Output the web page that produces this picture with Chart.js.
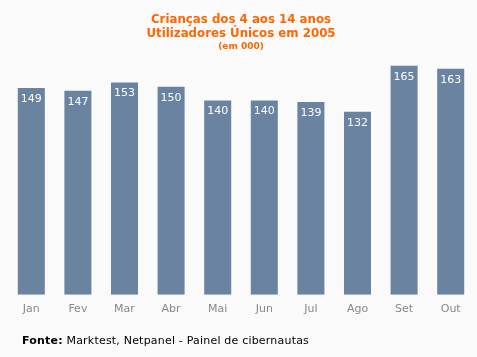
<!DOCTYPE html>
<html>
<head>
<meta charset="utf-8">
<script src="https://cdn.jsdelivr.net/npm/chart.js@4"></script>
<style>
html,body{margin:0;padding:0;background:#FAFAFA;}
#wrap{position:relative;width:477px;height:357px;}
#footer{position:absolute;left:22px;top:334px;font:11px "DejaVu Sans",Verdana,sans-serif;letter-spacing:0.2px;color:#000;white-space:nowrap;line-height:14px;}
</style>
</head>
<body>
<div id="wrap">
<canvas id="c" width="477" height="357"></canvas>
<div id="footer"><b>Fonte:</b> Marktest, Netpanel - Painel de cibernautas</div>
</div>
<script>
const titleLines = ["Crianças dos 4 aos 14 anos", "Utilizadores Únicos em 2005"];
const subtitleText = "(em 000)";
const months = ["Jan","Fev","Mar","Abr","Mai","Jun","Jul","Ago","Set","Out"];
const users = [149,147,153,150,140,140,139,132,165,163];

const FONT = '"DejaVu Sans", Verdana, sans-serif';

const valueLabels = {
  id: 'valueLabels',
  afterDatasetsDraw(chart) {
    const ctx = chart.ctx;
    const meta = chart.getDatasetMeta(0);
    ctx.save();
    ctx.fillStyle = '#FFFFFF';
    ctx.font = '11px ' + FONT;
    ctx.textAlign = 'center';
    ctx.textBaseline = 'middle';
    meta.data.forEach((bar, i) => {
      ctx.fillText(String(chart.data.datasets[0].data[i]), bar.x, bar.y + 11);
    });
    ctx.restore();
  }
};

new Chart(document.getElementById('c'), {
  type: 'bar',
  data: {
    labels: months,
    datasets: [{
      data: users,
      backgroundColor: '#6A83A1',
      borderWidth: 0,
      categoryPercentage: 1,
      barPercentage: 0.58
    }]
  },
  options: {
    responsive: false,
    animation: false,
    events: [],
    layout: { padding: { left: 8, right: 3, top: 0, bottom: 33 } },
    plugins: {
      legend: { display: false },
      tooltip: { enabled: false },
      title: {
        display: true,
        text: titleLines,
        color: '#FF6600',
        font: { family: FONT, size: 11.8, weight: 'bold', lineHeight: '14px' },
        padding: { top: 13, bottom: 0 }
      },
      subtitle: {
        display: true,
        text: subtitleText,
        color: '#FF6600',
        font: { family: FONT, size: 9, weight: 'bold', lineHeight: '11px' },
        padding: { top: 0, bottom: 0 }
      }
    },
    scales: {
      x: {
        grid: { display: false, drawTicks: false, tickLength: 0 },
        border: { display: false },
        ticks: { color: '#888888', font: { family: FONT, size: 11 }, padding: 8 }
      },
      y: {
        display: false,
        min: 0,
        max: 175
      }
    }
  },
  plugins: [valueLabels]
});
</script>
</body>
</html>
